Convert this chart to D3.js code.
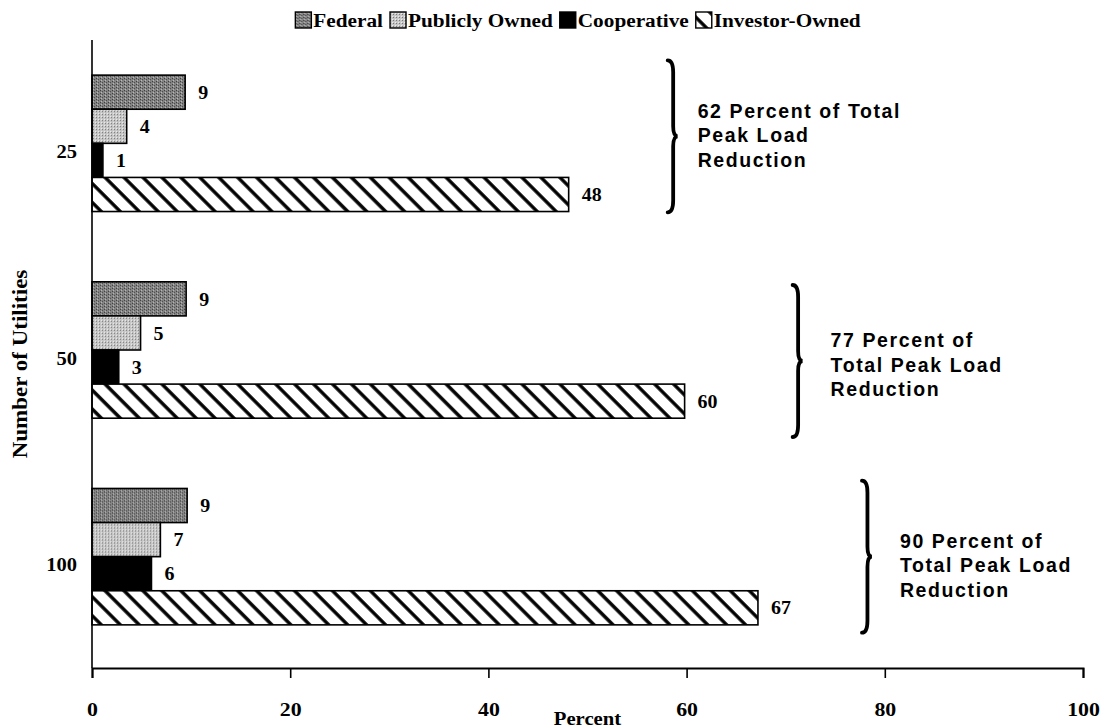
<!DOCTYPE html>
<html>
<head>
<meta charset="utf-8">
<script src="https://cdn.jsdelivr.net/npm/d3@7"></script>
<style>
  body { margin: 0; background: #fff; }
  svg { display: block; }
  .serif { font-family: "Liberation Serif", "Times New Roman", serif; font-weight: bold; }
  .sans { font-family: "Liberation Sans", Arial, sans-serif; font-weight: bold; }
</style>
</head>
<body>
<div id="chart"></div>
<script>
var width = 1103, height = 728;

// data
var groups = ["25", "50", "100"];
var seriesNames = ["Federal", "Publicly Owned", "Cooperative", "Investor-Owned"];
var federal = [9.4, 9.5, 9.6];
var publiclyOwned = [3.5, 4.9, 6.9];
var cooperative = [1.1, 2.7, 6.0];
var investorOwned = [48.1, 59.8, 67.2];
var federalLabels = ["9", "9", "9"];
var publicLabels = ["4", "5", "7"];
var coopLabels = ["1", "3", "6"];
var investorLabels = ["48", "60", "67"];
var noteLines = [
  ["62 Percent of Total", "Peak Load", "Reduction"],
  ["77 Percent of", "Total Peak Load", "Reduction"],
  ["90 Percent of", "Total Peak Load", "Reduction"]
];
var xTicks = [0, 20, 40, 60, 80, 100];

var seriesValues = [federal, publiclyOwned, cooperative, investorOwned];
var seriesLabels = [federalLabels, publicLabels, coopLabels, investorLabels];

// hand placement of the braces/notes, as in the original figure
var braceShift = [-7, 11, 0];
var noteShift = [-1, 4, 9];
var braceGap = [100, 109, 105];

var svg = d3.select("#chart").append("svg")
    .attr("width", width).attr("height", height);

// the old typeface is a wide Times, so stretch the serif text a little
function wideText(parent, x, y, size, k, txt) {
  return parent.append("text").attr("class", "serif")
    .attr("transform", "translate(" + x + "," + y + ") scale(" + k + ",1)")
    .attr("font-size", size).text(txt);
}

// fill patterns
var defs = svg.append("defs");

var fed = defs.append("pattern").attr("id", "pFed")
    .attr("patternUnits", "userSpaceOnUse").attr("width", 4).attr("height", 3);
fed.append("rect").attr("width", 4).attr("height", 3).attr("fill", "#858585");
fed.append("rect").attr("x", 0).attr("y", 0).attr("width", 1).attr("height", 1).attr("fill", "#333");
fed.append("rect").attr("x", 2).attr("y", 1).attr("width", 1).attr("height", 1).attr("fill", "#444");
fed.append("rect").attr("x", 1).attr("y", 2).attr("width", 1).attr("height", 1).attr("fill", "#c0c0c0");

var pub = defs.append("pattern").attr("id", "pPub")
    .attr("patternUnits", "userSpaceOnUse").attr("width", 3).attr("height", 3);
pub.append("rect").attr("width", 3).attr("height", 3).attr("fill", "#c6c6c6");
pub.append("rect").attr("x", 0).attr("y", 0).attr("width", 1).attr("height", 1).attr("fill", "#777");
pub.append("rect").attr("x", 2).attr("y", 2).attr("width", 1).attr("height", 1).attr("fill", "#eee");

var hatch = defs.append("pattern").attr("id", "pInv")
    .attr("patternUnits", "userSpaceOnUse").attr("width", 13.4).attr("height", 13.4)
    .attr("patternTransform", "rotate(-45)");
hatch.append("rect").attr("width", 13.4).attr("height", 13.4).attr("fill", "#fff");
hatch.append("line").attr("x1", 2).attr("y1", 0).attr("x2", 2).attr("y2", 13.4)
    .attr("stroke", "#000").attr("stroke-width", 3.4);

var fills = ["url(#pFed)", "url(#pPub)", "#000", "url(#pInv)"];

// scales
var x = d3.scaleLinear().domain([0, 100]).range([92, 1083]);
var y = d3.scaleBand().domain(groups).range([40, 660])
    .paddingInner(0.34).paddingOuter(0.17);
var yInner = d3.scaleBand().domain(d3.range(4)).range([0, y.bandwidth()]);

// bars
groups.forEach(function(g, gi) {
  var gg = svg.append("g").attr("transform", "translate(0," + y(g) + ")");
  seriesValues.forEach(function(vals, si) {
    gg.append("rect")
      .attr("x", x(0))
      .attr("y", yInner(si))
      .attr("width", x(vals[gi]) - x(0))
      .attr("height", yInner.bandwidth())
      .attr("fill", fills[si])
      .attr("stroke", "#000")
      .attr("stroke-width", 1.6);
    wideText(gg, x(vals[gi]) + 13, yInner(si) + yInner.bandwidth() / 2, 19, 1.05, seriesLabels[si][gi])
      .attr("dy", "0.35em");
  });

  // brace + note
  var bx = x(investorOwned[gi]) + braceGap[gi];
  var cy = y(g) + y.bandwidth() / 2 + braceShift[gi];
  var top = cy - 76, bot = cy + 76, w = 9;
  var p = d3.path();
  p.moveTo(bx - 1, top);
  p.quadraticCurveTo(bx + w / 2, top, bx + w / 2, top + 12);
  p.lineTo(bx + w / 2, cy - 10);
  p.quadraticCurveTo(bx + w / 2, cy, bx + w, cy);
  p.quadraticCurveTo(bx + w / 2, cy, bx + w / 2, cy + 10);
  p.lineTo(bx + w / 2, bot - 12);
  p.quadraticCurveTo(bx + w / 2, bot, bx - 1, bot);
  svg.append("path").attr("d", p.toString())
    .attr("fill", "none").attr("stroke", "#000")
    .attr("stroke-width", 3.8).attr("stroke-linecap", "round");

  var note = svg.append("text").attr("class", "sans")
    .attr("font-size", 19.5).attr("letter-spacing", 1.6);
  noteLines[gi].forEach(function(line, li) {
    note.append("tspan")
      .attr("x", bx + (gi === 0 ? 29 : 37))
      .attr("y", cy + noteShift[gi] + (li - 1) * 24.5)
      .attr("dy", "0.35em")
      .text(line);
  });
});

// axes
var xAxis = svg.append("g").attr("transform", "translate(0,668)")
    .call(d3.axisBottom(x).tickValues(xTicks).tickSize(10).tickPadding(25));
xAxis.select(".domain").attr("stroke-width", 2);
xAxis.selectAll(".tick line").attr("stroke-width", 1.6);
xAxis.selectAll("text").attr("class", "serif").attr("font-size", 19)
  .attr("fill", "#000").attr("transform", "scale(1.15,1)");

svg.append("line").attr("x1", x(0)).attr("x2", x(0))
  .attr("y1", 40).attr("y2", 668).attr("stroke", "#000").attr("stroke-width", 1.6);

groups.forEach(function(g) {
  wideText(svg, 77, y(g) + y.bandwidth() / 2 + 8, 19, 1.08, g)
    .attr("dy", "0.35em").attr("text-anchor", "end");
});

wideText(svg, x(50), 725, 18, 1.15, "Percent").attr("text-anchor", "middle");

svg.append("text").attr("class", "serif")
  .attr("transform", "translate(20,364) rotate(-90) scale(1.15,1)")
  .attr("dy", "0.35em").attr("text-anchor", "middle")
  .attr("font-size", 20).text("Number of Utilities");

// legend
var legend = svg.append("g");
var lx = 0;
seriesNames.forEach(function(name, i) {
  var it = legend.append("g").attr("transform", "translate(" + lx + ",0)");
  it.append("rect").attr("x", 0).attr("y", -8).attr("width", 16).attr("height", 16)
    .attr("fill", fills[i]).attr("stroke", "#000").attr("stroke-width", 1.4);
  var t = wideText(it, 18, 0, 19, 1.12, name).attr("dy", "0.35em");
  lx += 18 + t.node().getComputedTextLength() * 1.12 + 7;
});
legend.attr("transform", "translate(" + (578 - (lx - 7) / 2) + ",20)");
</script>
</body>
</html>
